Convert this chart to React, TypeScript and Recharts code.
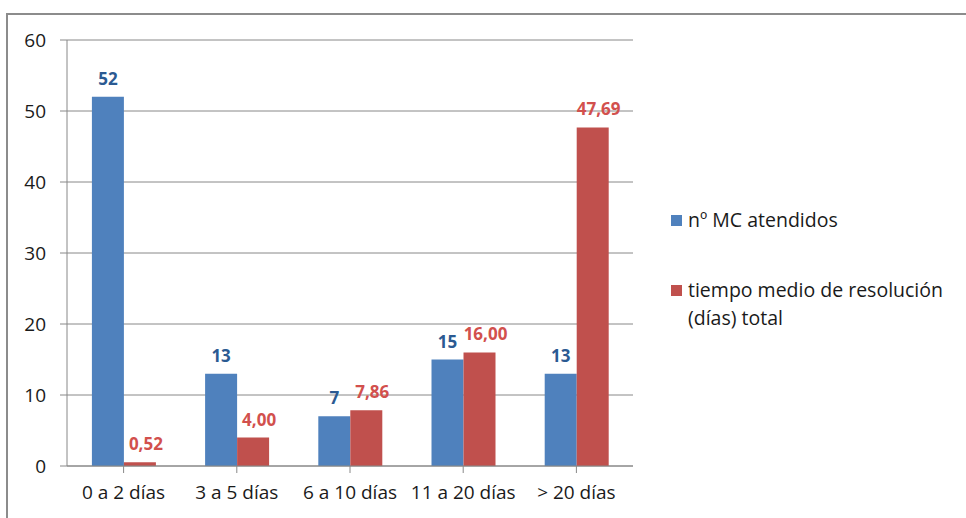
import React from 'react';
import { BarChart, Bar, XAxis, YAxis, CartesianGrid, LabelList } from 'recharts';

const categories = ['0 a 2 días', '3 a 5 días', '6 a 10 días', '11 a 20 días', '> 20 días'];
const attended = [52, 13, 7, 15, 13];
const avgDays = [0.52, 4.0, 7.86, 16.0, 47.69];
const yTicks = [0, 10, 20, 30, 40, 50, 60];
const seriesNames = ['nº MC atendidos', 'tiempo medio de resolución (días) total'];

const BLUE = '#4F81BD';
const RED = '#C0504D';
const BLUE_LABEL = '#2B5A92';
const RED_LABEL = '#D2504D';
const AXIS = '#888888';
const TEXT = '#1a1a1a';
const FONT = '"Open Sans", "Noto Sans", sans-serif';

const data = categories.map((name, i) => ({
  name,
  attended: attended[i],
  avgDays: avgDays[i],
}));

const fmtComma = (v: any) => Number(v).toFixed(2).replace('.', ',');

// legend sits to the right of the plot, drawn as plain html
function LegendBox() {
  const items = [
    { color: BLUE, label: seriesNames[0] },
    { color: RED, label: seriesNames[1] },
  ];
  return (
    <div
      style={{
        position: 'absolute',
        left: 671,
        top: 206,
        width: 294,
        fontFamily: FONT,
        fontSize: 19.5,
        color: TEXT,
      }}
    >
      {items.map((it, i) => (
        <div key={i} style={{ display: 'flex', alignItems: 'flex-start', marginBottom: i === 0 ? 42 : 0 }}>
          <span
            style={{
              display: 'inline-block',
              width: 11,
              height: 11,
              background: it.color,
              marginTop: 9,
              marginRight: 6,
              flexShrink: 0,
            }}
          />
          <div style={{ lineHeight: '28px', width: 277 }}>{it.label}</div>
        </div>
      ))}
    </div>
  );
}

export default function App() {
  return (
    <div style={{ position: 'fixed', left: 0, top: 0, width: 966, height: 518, background: '#fff', overflow: 'hidden' }}>
      <div
        style={{
          position: 'absolute',
          left: 6,
          top: 13,
          width: 1000,
          height: 600,
          border: '2px solid #8c8c8c',
          boxSizing: 'border-box',
        }}
      />
      <BarChart
        width={966}
        height={518}
        data={data}
        margin={{ top: 40, right: 333, bottom: 12, left: 7 }}
        barCategoryGap="22%"
        barGap={0}
        style={{ position: 'absolute', left: 0, top: 0 }}
      >
        <CartesianGrid vertical={false} stroke={AXIS} strokeWidth={1} />
        <XAxis
          dataKey="name"
          height={40}
          stroke={AXIS}
          tickSize={7}
          tickMargin={13}
          tick={{ fill: TEXT, fontSize: 19, fontFamily: FONT }}
          interval={0}
        />
        <YAxis
          width={60}
          domain={[0, 60]}
          ticks={yTicks}
          stroke={AXIS}
          tickSize={7}
          tickMargin={14}
          tick={{ fill: TEXT, fontSize: 19, fontFamily: FONT }}
        />
        <Bar dataKey="attended" fill={BLUE} isAnimationActive={false}>
          <LabelList
            dataKey="attended"
            position="top"
            offset={12}
            fill={BLUE_LABEL}
            fontSize={17}
            fontWeight="bold"
            fontFamily={FONT}
          />
        </Bar>
        <Bar dataKey="avgDays" fill={RED} isAnimationActive={false}>
          <LabelList
            dataKey="avgDays"
            position="top"
            offset={12}
            dx={6}
            fill={RED_LABEL}
            fontSize={17}
            fontWeight="bold"
            fontFamily={FONT}
            formatter={fmtComma}
          />
        </Bar>
      </BarChart>
      <LegendBox />
    </div>
  );
}
